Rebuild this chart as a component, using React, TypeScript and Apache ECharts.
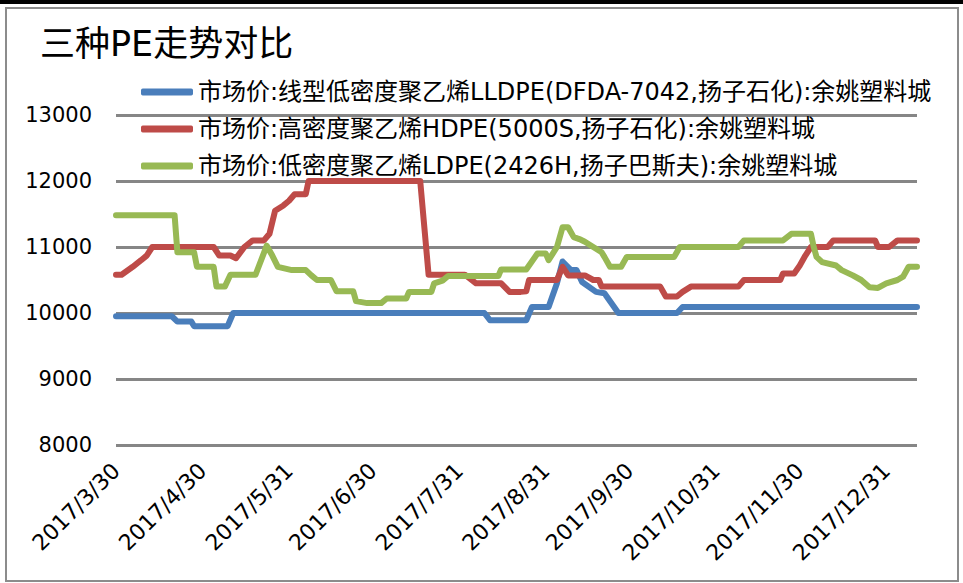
import React, { useEffect, useRef } from "react";
import * as echarts from "echarts";

const titleText = "三种PE走势对比";
const seriesNames = [
  "市场价:线型低密度聚乙烯LLDPE(DFDA-7042,扬子石化):余姚塑料城",
  "市场价:高密度聚乙烯HDPE(5000S,扬子石化):余姚塑料城",
  "市场价:低密度聚乙烯LDPE(2426H,扬子巴斯夫):余姚塑料城",
];
const seriesColors = ["#4A7EBB", "#BE4B48", "#98B954"];

const tickLabelDates = [
  "2017-03-30", "2017-04-30", "2017-05-31", "2017-06-30", "2017-07-31",
  "2017-08-31", "2017-09-30", "2017-10-31", "2017-11-30", "2017-12-31",
];
const axisStart = "2017-03-30";
const axisEnd = "2018-01-11";

const lldpeDates = [
  "2017-03-30", "2017-04-19", "2017-04-21", "2017-04-26", "2017-04-27", "2017-05-09",
  "2017-05-11", "2017-08-09", "2017-08-11", "2017-08-24", "2017-08-26", "2017-09-01",
  "2017-09-04", "2017-09-06", "2017-09-09", "2017-09-11", "2017-09-13", "2017-09-18",
  "2017-09-21", "2017-09-26", "2017-10-17", "2017-10-19", "2018-01-11",
];
const lldpeValues = [
  9950, 9950, 9870, 9870, 9800, 9800,
  10000, 10000, 9890, 9890, 10090, 10090,
  10450, 10780, 10650, 10650, 10470, 10320,
  10300, 10000, 10000, 10090, 10090,
];

const hdpeDates = [
  "2017-03-30", "2017-04-01", "2017-04-05", "2017-04-08", "2017-04-10", "2017-04-12",
  "2017-05-04", "2017-05-06", "2017-05-10", "2017-05-12", "2017-05-15", "2017-05-18",
  "2017-05-22", "2017-05-24", "2017-05-26", "2017-05-29", "2017-05-31", "2017-06-02",
  "2017-06-06", "2017-06-07", "2017-07-17", "2017-07-20", "2017-08-02", "2017-08-06",
  "2017-08-15", "2017-08-18", "2017-08-22", "2017-08-24", "2017-08-25", "2017-09-04",
  "2017-09-06", "2017-09-08", "2017-09-14", "2017-09-17", "2017-09-19", "2017-09-20",
  "2017-10-11", "2017-10-13", "2017-10-17", "2017-10-19", "2017-10-22", "2017-11-08",
  "2017-11-10", "2017-11-23", "2017-11-24", "2017-11-28", "2017-11-30", "2017-12-02",
  "2017-12-04", "2017-12-10", "2017-12-12", "2017-12-27", "2017-12-28", "2018-01-01",
  "2018-01-04", "2018-01-11",
];
const hdpeValues = [
  10580, 10580, 10700, 10800, 10870, 11000,
  11000, 10870, 10870, 10830, 11000, 11100,
  11100, 11200, 11550, 11630, 11700, 11800,
  11800, 12000, 12000, 10580, 10580, 10450,
  10450, 10320, 10320, 10330, 10500, 10500,
  10700, 10570, 10570, 10500, 10500, 10400,
  10400, 10250, 10250, 10320, 10400, 10400,
  10500, 10500, 10600, 10600, 10720, 10870,
  11000, 11000, 11100, 11100, 11000, 11000,
  11100, 11100,
];

const ldpeDates = [
  "2017-03-30", "2017-04-20", "2017-04-21", "2017-04-27", "2017-04-28", "2017-05-04",
  "2017-05-05", "2017-05-08", "2017-05-10", "2017-05-19", "2017-05-23", "2017-05-25",
  "2017-05-27", "2017-06-01", "2017-06-06", "2017-06-08", "2017-06-10", "2017-06-15",
  "2017-06-17", "2017-06-23", "2017-06-24", "2017-06-28", "2017-07-03", "2017-07-05",
  "2017-07-12", "2017-07-13", "2017-07-21", "2017-07-22", "2017-07-25", "2017-07-27",
  "2017-08-14", "2017-08-15", "2017-08-24", "2017-08-28", "2017-08-31", "2017-09-01",
  "2017-09-04", "2017-09-06", "2017-09-08", "2017-09-10", "2017-09-12", "2017-09-14",
  "2017-09-17", "2017-09-20", "2017-09-21", "2017-09-23", "2017-09-27", "2017-09-29",
  "2017-10-16", "2017-10-18", "2017-11-08", "2017-11-10", "2017-11-24", "2017-11-27",
  "2017-12-04", "2017-12-05", "2017-12-06", "2017-12-08", "2017-12-13", "2017-12-15",
  "2017-12-19", "2017-12-22", "2017-12-25", "2017-12-28", "2017-12-31", "2018-01-04",
  "2018-01-06", "2018-01-08", "2018-01-11",
];
const ldpeValues = [
  11480, 11480, 10920, 10920, 10700, 10700,
  10400, 10400, 10580, 10580, 11020, 10870,
  10700, 10650, 10650, 10570, 10500, 10500,
  10330, 10330, 10180, 10150, 10150, 10220,
  10220, 10320, 10320, 10450, 10490, 10560,
  10560, 10660, 10660, 10900, 10900, 10800,
  11000, 11300, 11300, 11150, 11120, 11080,
  11000, 10920, 10850, 10700, 10700, 10850,
  10850, 11000, 11000, 11100, 11100, 11200,
  11200, 11000, 10850, 10770, 10720, 10650,
  10570, 10500, 10390, 10380, 10450, 10500,
  10550, 10700, 10700,
];

const yMin = 8000;
const yMax = 13000;
const yInterval = 1000;

function toTime(s: string): number {
  const [y, m, d] = s.split("-").map(Number);
  return new Date(y, m - 1, d).getTime();
}

function zip(dates: string[], values: number[]) {
  return dates.map((d, i) => [toTime(d), values[i]]);
}

const FONT = "'DejaVu Sans', 'Noto Sans CJK SC', sans-serif";

export default function App() {
  const ref = useRef<HTMLDivElement>(null);

  useEffect(() => {
    document.body.style.margin = "0";
    const chart = echarts.init(ref.current!, null, { renderer: "svg" });
    const seriesData = [
      zip(lldpeDates, lldpeValues),
      zip(hdpeDates, hdpeValues),
      zip(ldpeDates, ldpeValues),
    ];
    chart.setOption({
      animation: false,
      backgroundColor: "#ffffff",
      graphic: [
        { type: "rect", shape: { x: 0, y: 0, width: 963, height: 4 }, style: { fill: "#000" }, silent: true },
        {
          type: "rect",
          shape: { x: 6, y: 8, width: 952, height: 573 },
          style: { fill: "none", stroke: "#8C8C8C", lineWidth: 2 },
          silent: true,
        },
      ],
      title: {
        text: titleText,
        left: 35,
        top: 21,
        textStyle: { fontSize: 35, fontWeight: "normal", color: "#000", fontFamily: FONT },
      },
      legend: {
        orient: "vertical",
        left: 136,
        top: 74,
        itemWidth: 52,
        itemHeight: 7,
        itemGap: 11,
        icon: "roundRect",
        data: seriesNames,
        textStyle: { fontSize: 24, lineHeight: 26, color: "#000", fontFamily: FONT },
      },
      grid: { left: 116, right: 46, top: 115, bottom: 138, containLabel: false },
      xAxis: {
        type: "value",
        min: toTime(axisStart),
        max: toTime(axisEnd),
        axisLine: { show: false },
        axisTick: { show: false },
        splitLine: { show: false },
        axisLabel: {
          rotate: 45,
          fontSize: 22,
          margin: 22,
          color: "#000",
          fontFamily: FONT,
          hideOverlap: false,
          customValues: tickLabelDates.map(toTime),
          formatter: (v: number) => {
            const d = new Date(v);
            return `${d.getFullYear()}/${d.getMonth() + 1}/${d.getDate()}`;
          },
        },
      },
      yAxis: {
        type: "value",
        min: yMin,
        max: yMax,
        interval: yInterval,
        axisLine: { show: false },
        axisTick: { show: false },
        axisLabel: {
          fontSize: 21,
          margin: 24,
          color: "#000",
          fontFamily: FONT,
          formatter: (v: number) => String(v),
        },
        splitLine: { lineStyle: { color: "#868686", width: 3 } },
      },
      series: seriesNames.map((name, i) => ({
        name,
        type: "line",
        data: seriesData[i],
        symbol: "none",
        color: seriesColors[i],
        lineStyle: { width: 6, color: seriesColors[i], cap: "round", join: "round" },
      })),
    });
    return () => chart.dispose();
  }, []);

  return <div ref={ref} style={{ width: 963, height: 583 }} />;
}
